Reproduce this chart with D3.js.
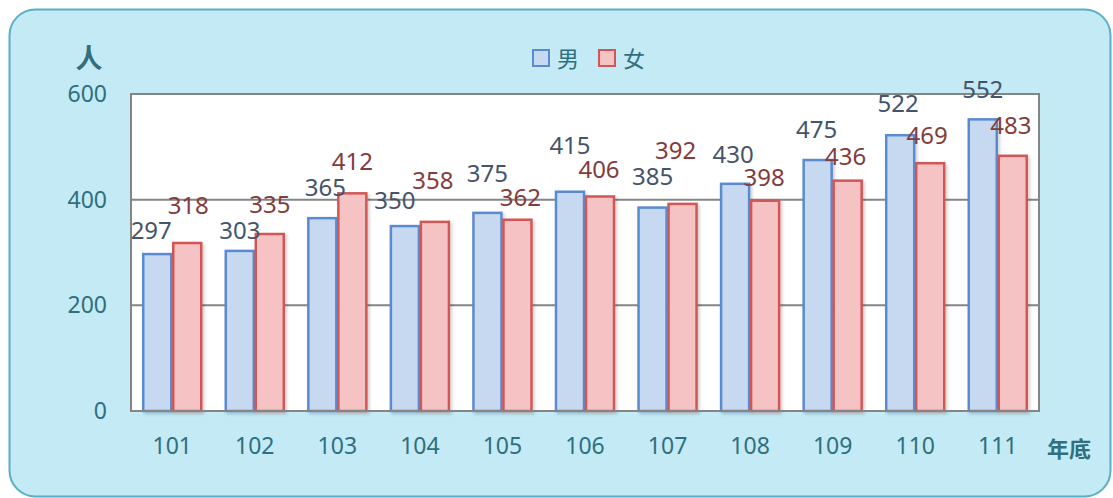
<!DOCTYPE html>
<html>
<head>
<meta charset="utf-8">
<script src="https://cdn.jsdelivr.net/npm/d3@7"></script>
<style>
	body { margin: 0; background: #fff; }
	svg { display: block; font-family: "Noto Sans CJK TC", "Noto Sans", sans-serif; }
</style>
</head>
<body>
<svg id="chart" width="1113" height="498"></svg>
<script>
const YEARS = ["101", "102", "103", "104", "105", "106", "107", "108", "109", "110", "111"];
const MALE = [297, 303, 365, 350, 375, 415, 385, 430, 475, 522, 552];
const FEMALE = [318, 335, 412, 358, 362, 406, 392, 398, 436, 469, 483];
const Y_TICKS = [0, 200, 400, 600];

// label nudges (px) so the value labels do not collide, as in the original
const MALE_LABEL_DX = [-6, 0, 3, -10, 0, 0, 0, -2, -1, -2, 0];
const MALE_LABEL_DY = [-5, -8, 2, -3, 11, 18, 3, 1, 2, 3, 1];
const FEMALE_LABEL_DX = [1, 0, 0, -2, 3, -1, -7, -1, -2, -3, -2];
const FEMALE_LABEL_DY = [9, 1, 3, 13, -6, -2, 25, -5, -4, -1, 2];

const SERIES = [
	{ name: "男", values: MALE, dx: MALE_LABEL_DX, dy: MALE_LABEL_DY, fill: "#c6d9f1", stroke: "#5a8ad0", label: "#44546a" },
	{ name: "女", values: FEMALE, dx: FEMALE_LABEL_DX, dy: FEMALE_LABEL_DY, fill: "#f5c3c3", stroke: "#d35656", label: "#833c3c" },
];

const AXIS_COLOR = "#2f6f7e";
const GRID_COLOR = "#858585";

const svg = d3.select("#chart");

// panel
svg.append("rect")
	.attr("x", 9.5).attr("y", 9.5)
	.attr("width", 1101).attr("height", 487)
	.attr("rx", 26).attr("ry", 26)
	.attr("fill", "#c3eaf5")
	.attr("stroke", "#5aaec6")
	.attr("stroke-width", 2);

const plot = { left: 131, right: 1039, top: 94, bottom: 411 };

const x = d3.scaleBand()
	.domain(YEARS)
	.range([plot.left, plot.right])
	.paddingInner(0.273)
	.paddingOuter(0.136);

const xSub = d3.scaleBand()
	.domain(SERIES.map(s => s.name))
	.range([0, x.bandwidth()]);

const y = d3.scaleLinear()
	.domain([0, 600])
	.range([plot.bottom, plot.top]);

svg.append("rect")
	.attr("x", plot.left).attr("y", plot.top)
	.attr("width", plot.right - plot.left)
	.attr("height", plot.bottom - plot.top)
	.attr("fill", "#fff");

// grid
svg.append("g")
	.selectAll("line")
	.data(Y_TICKS.filter(d => d > 0 && d < 600))
	.join("line")
	.attr("x1", plot.left).attr("x2", plot.right)
	.attr("y1", d => y(d)).attr("y2", d => y(d))
	.attr("stroke", GRID_COLOR)
	.attr("stroke-width", 2);

// shadow filter
const defs = svg.append("defs");
const f = defs.append("filter").attr("id", "shadow").attr("x", "-20%").attr("y", "-20%").attr("width", "150%").attr("height", "150%");
f.append("feDropShadow").attr("dx", 2).attr("dy", 2).attr("stdDeviation", 1.5).attr("flood-color", "#000").attr("flood-opacity", 0.18);

// bars
SERIES.forEach(s => {
	svg.append("g")
		.selectAll("rect")
		.data(YEARS.map((yr, i) => ({ yr, v: s.values[i] })))
		.join("rect")
		.attr("x", d => x(d.yr) + xSub(s.name) + 1)
		.attr("y", d => y(d.v))
		.attr("width", xSub.bandwidth() - 2)
		.attr("height", d => y(0) - y(d.v))
		.attr("fill", s.fill)
		.attr("stroke", s.stroke)
		.attr("stroke-width", 2.5)
		.attr("filter", "url(#shadow)");
});

// plot border
svg.append("rect")
	.attr("x", plot.left).attr("y", plot.top)
	.attr("width", plot.right - plot.left)
	.attr("height", plot.bottom - plot.top)
	.attr("fill", "none")
	.attr("stroke", GRID_COLOR)
	.attr("stroke-width", 2);

// value labels
SERIES.forEach(s => {
	svg.append("g")
		.selectAll("text")
		.data(YEARS.map((yr, i) => ({ yr, v: s.values[i], dx: s.dx[i], dy: s.dy[i] })))
		.join("text")
		.attr("x", d => x(d.yr) + xSub(s.name) + xSub.bandwidth() / 2 + d.dx)
		.attr("y", d => y(d.v) - 20 - d.dy)
		.attr("text-anchor", "middle")
		.attr("font-size", 24)
		.attr("font-family", "'Noto Sans', sans-serif")
		.attr("fill", s.label)
		.text(d => d.v);
});

// y axis
const yAxis = svg.append("g")
	.attr("transform", `translate(${plot.left - 24},0)`)
	.call(d3.axisLeft(y).tickValues(Y_TICKS).tickSize(0).tickPadding(0));
yAxis.select(".domain").remove();
yAxis.selectAll("text")
	.attr("font-size", 23)
	.attr("fill", AXIS_COLOR)
	.attr("font-family", "'Noto Sans', sans-serif");

// x axis
const xAxis = svg.append("g")
	.attr("transform", `translate(0,${plot.bottom})`)
	.call(d3.axisBottom(x).tickSize(0).tickPadding(27));
xAxis.select(".domain").remove();
xAxis.selectAll("text")
	.attr("font-size", 23)
	.attr("fill", AXIS_COLOR)
	.attr("font-family", "'Noto Sans', sans-serif");

// axis titles
svg.append("text")
	.attr("x", 89).attr("y", 68)
	.attr("text-anchor", "middle")
	.attr("font-size", 27)
	.attr("font-weight", "bold")
	.attr("fill", AXIS_COLOR)
	.text("人");

svg.append("text")
	.attr("x", 1069).attr("y", 457)
	.attr("text-anchor", "middle")
	.attr("font-size", 22)
	.attr("font-weight", "bold")
	.attr("fill", AXIS_COLOR)
	.text("年底");

// legend
const legend = svg.append("g").attr("transform", "translate(532,49)");
SERIES.forEach((s, i) => {
	const g = legend.append("g").attr("transform", `translate(${i * 66},0)`);
	g.append("rect")
		.attr("x", 1).attr("y", 1)
		.attr("width", 16).attr("height", 16)
		.attr("fill", s.fill)
		.attr("stroke", s.stroke)
		.attr("stroke-width", 2);
	g.append("text")
		.attr("x", 25).attr("y", 18)
		.attr("font-size", 22)
		.attr("fill", AXIS_COLOR)
		.text(s.name);
});
</script>
</body>
</html>
